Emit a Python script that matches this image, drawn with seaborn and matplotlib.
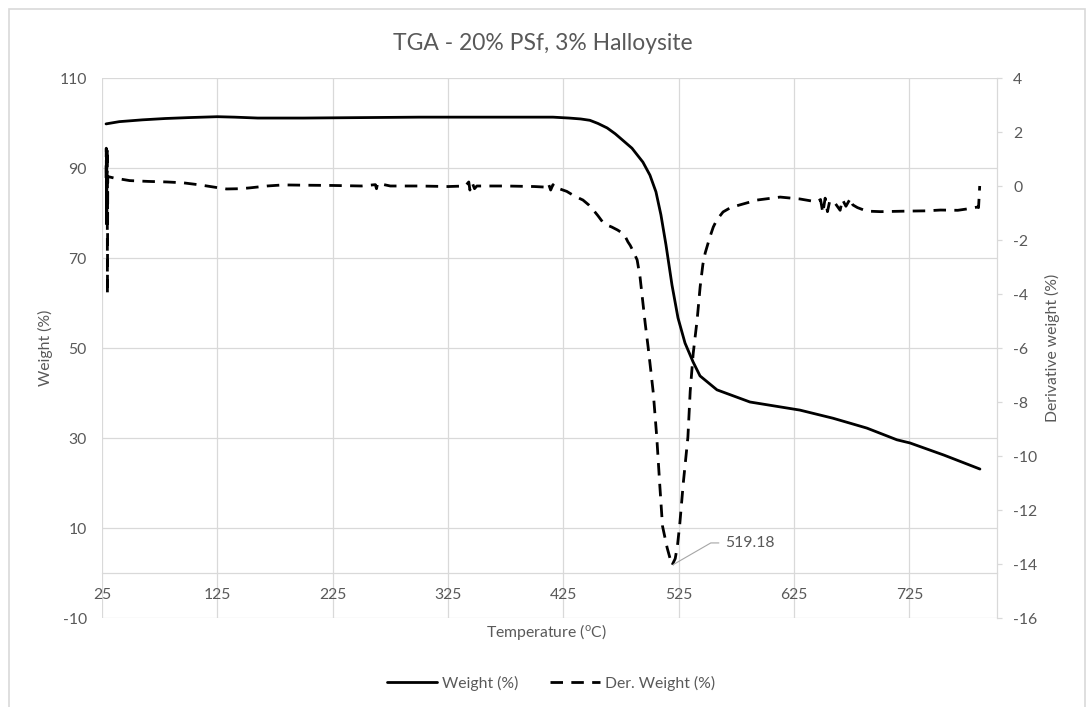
import matplotlib
matplotlib.use("Agg")
import matplotlib.pyplot as plt
from matplotlib.patches import Rectangle
from matplotlib.lines import Line2D
import seaborn as sns
import numpy as np

# ---------------- data ----------------
weight_temp = [28.5, 40, 60, 80, 100, 125, 140, 160, 200, 250, 300, 350, 400, 416,
               430, 440, 448, 455, 463, 470, 474.1, 484.5, 494.0, 500.1, 505.3, 509.6,
               514.0, 519.2, 524.4, 530.5, 537.5, 543.5, 558.2, 586.8, 630.1, 658.7,
               673.5, 688.2, 714.2, 725.5, 755, 786.2]
weight_val = [99.8, 100.3, 100.7, 101.0, 101.2, 101.4, 101.3, 101.1, 101.1, 101.2,
              101.3, 101.3, 101.3, 101.3, 101.1, 100.9, 100.6, 99.9, 98.9, 97.6,
              96.7, 94.4, 91.3, 88.4, 84.7, 79.6, 72.9, 64.0, 56.7, 51.1, 46.9, 43.8,
              40.7, 38.0, 36.2, 34.4, 33.3, 32.2, 29.6, 28.9, 26.2, 23.1]

deriv_temp = [28.5, 28.7, 28.9, 29.1, 29.3, 29.5, 29.7, 30.0, 35, 49, 65, 81, 95, 110,
              125, 133, 145, 153, 168, 182, 200, 225, 250, 262, 263, 264, 275, 300,
              325, 340, 343, 344, 346, 348, 350, 375, 400, 409, 412, 414, 416, 419,
              422, 428, 433, 437, 442, 447, 451, 455, 459, 463, 467, 472, 476, 479,
              481, 483, 485, 487, 489, 491.5, 494, 496, 498.5, 501, 503, 506, 508.5,
              511, 515, 519.18, 522, 524, 526, 529, 533, 535, 537.6, 541, 543.6, 546,
              548, 552, 555, 558, 563.5, 570, 578, 593, 613, 630, 645, 648, 650, 652,
              654, 656, 660, 665, 667, 670, 674, 676, 680, 688, 700, 723, 740, 752,
              767, 775, 784, 785, 786]
deriv_val = [0.3, 1.4, -1.4, 1.3, -1.4, 1.4, -4.0, 0.35, 0.3, 0.2, 0.17, 0.15, 0.12,
             0.04, -0.06, -0.11, -0.1, -0.07, 0.0, 0.04, 0.03, 0.02, 0.0, 0.05, -0.1,
             0.1, 0.0, 0.0, -0.02, 0.0, 0.15, -0.15, 0.12, -0.1, 0.0, 0.0, -0.02,
             -0.04, 0.1, -0.15, 0.05, -0.12, -0.11, -0.2, -0.33, -0.42, -0.52, -0.7,
             -0.89, -1.1, -1.33, -1.45, -1.52, -1.63, -1.74, -1.9, -2.07, -2.2, -2.37,
             -2.55, -2.74, -3.37, -4.33, -5.1, -5.96, -6.9, -7.67, -9.3, -11.0, -12.6,
             -13.4, -14.05, -13.8, -13.3, -12.5, -11.0, -9.3, -7.6, -6.2, -4.96, -3.74,
             -2.9, -2.48, -1.9, -1.52, -1.26, -0.96, -0.8, -0.7, -0.52, -0.41, -0.48,
             -0.59, -0.5, -1.0, -0.45, -0.95, -0.55, -0.6, -0.9, -0.5, -0.75, -0.45,
             -0.7, -0.8, -0.93, -0.95, -0.93, -0.92, -0.89, -0.9, -0.85, -0.78, -0.8,
             0.0]

peak_temp = 519.18
peak_val = -14.05

x_ticks = [25, 125, 225, 325, 425, 525, 625, 725]
left_ticks = [-10, 10, 30, 50, 70, 90, 110]
right_ticks = [-16, -14, -12, -10, -8, -6, -4, -2, 0, 2, 4]

title = "TGA - 20% PSf, 3% Halloysite"
xlabel = "Temperature ($^{\\mathrm{o}}$C)"
ylabel_left = "Weight (%)"
ylabel_right = "Derivative weight (%)"
series_names = ["Weight (%)", "Der. Weight (%)"]

# ---------------- style ----------------
sns.set_theme(style="white")
plt.rcParams["font.family"] = ["Lato", "DejaVu Sans"]
plt.rcParams["mathtext.fontset"] = "custom"
plt.rcParams["mathtext.rm"] = "Lato"
plt.rcParams["mathtext.it"] = "Lato"
plt.rcParams["axes.unicode_minus"] = False

GRAY_TXT = "#595959"
GRID = "#d9d9d9"
FS = 11.3

W, H = 1088, 707
fig = plt.figure(figsize=(W / 100, H / 100), dpi=100)
L, R, T, B = 102, 997, 78, 618
ax = fig.add_axes([L / W, 1 - B / H, (R - L) / W, (B - T) / H])
ax2 = ax.twinx()

sns.lineplot(x=weight_temp, y=weight_val, ax=ax, color="black", lw=2.0,
             estimator=None, sort=False)
sns.lineplot(x=deriv_temp, y=deriv_val, ax=ax2, color="black", lw=2.0,
             estimator=None, sort=False, linestyle=(0, (4.5, 3)))

ax.set_xlim(25, 801)
ax.set_ylim(-10, 110)
ax2.set_ylim(-16, 4)
ax.set_xticks(x_ticks)
ax.set_yticks(left_ticks)
ax2.set_yticks(right_ticks)
ax.set_xlabel("")
ax.set_ylabel("")
ax2.set_ylabel("")

ax.grid(True, color=GRID, lw=0.9)
ax2.grid(False)
for s in ["left", "top", "right"]:
    ax.spines[s].set_visible(False)
ax.spines["bottom"].set_position(("data", 0))
ax.spines["bottom"].set_color(GRID)
ax.spines["bottom"].set_linewidth(0.9)
for s in ["left", "top", "bottom"]:
    ax2.spines[s].set_visible(False)
ax2.spines["right"].set_color(GRID)
ax2.spines["right"].set_linewidth(0.9)

ax.tick_params(axis="x", length=0, pad=11, labelsize=FS, labelcolor=GRAY_TXT)
ax.tick_params(axis="y", length=0, pad=11, labelsize=FS, labelcolor=GRAY_TXT)
ax2.tick_params(axis="y", length=3.6, width=0.9, color=GRID, pad=8,
                labelsize=FS, labelcolor=GRAY_TXT, direction="out")
ax.set_zorder(ax2.get_zorder() - 1)
ax2.patch.set_visible(False)

# annotation of peak
ax2.annotate(f"{peak_temp:.2f}", xy=(peak_temp, peak_val), xytext=(565.1, -13.22),
             textcoords="data", fontsize=FS, color=GRAY_TXT, va="center", ha="left",
             arrowprops=dict(arrowstyle="-", color="#a6a6a6", lw=0.8, shrinkA=2,
                             shrinkB=1, relpos=(0, 0.5),
                             connectionstyle="angle,angleA=0,angleB=30,rad=0"))

fig.text(543 / W, 1 - 43 / H, title, ha="center", va="center", fontsize=16.5,
         color=GRAY_TXT)
fig.text(546 / W, 1 - 632 / H, xlabel, ha="center", va="center", fontsize=FS,
         color=GRAY_TXT)
fig.text(45 / W, 1 - 348 / H, ylabel_left, ha="center", va="center", fontsize=FS,
         color=GRAY_TXT, rotation=90)
fig.text(1052 / W, 1 - 348 / H, ylabel_right, ha="center", va="center", fontsize=FS,
         color=GRAY_TXT, rotation=90)

handles = [Line2D([], [], color="black", lw=2.0),
           Line2D([], [], color="black", lw=2.0, linestyle=(0, (4.5, 3)))]
fig.legend(handles, series_names, loc="center", bbox_to_anchor=(551 / W, 1 - 683 / H),
           ncol=2, frameon=False, handlelength=3.2, handletextpad=0.3,
           columnspacing=2.0, fontsize=FS, labelcolor=GRAY_TXT)

fig.add_artist(Rectangle((9 / W, -0.01), (1085 - 9) / W, 1 - 9 / H + 0.01,
                         transform=fig.transFigure, fill=False, ec=GRID, lw=1.2))

fig.savefig("out.png", dpi=100)
